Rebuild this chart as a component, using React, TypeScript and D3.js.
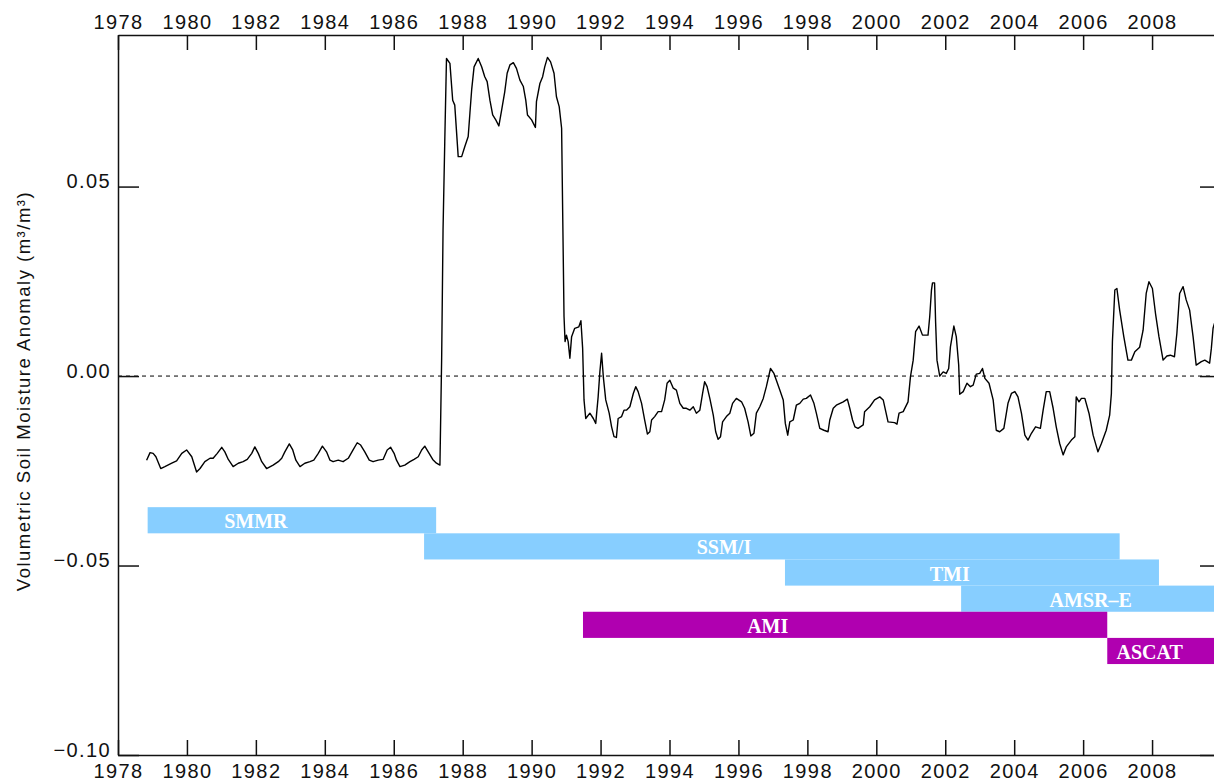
import * as d3 from "d3";
import { useEffect, useRef } from "react";

// tick labels
const yearTicks = [1978, 1980, 1982, 1984, 1986, 1988, 1990, 1992, 1994, 1996, 1998, 2000, 2002, 2004, 2006, 2008];
const valueTicks = [-0.1, -0.05, 0, 0.05];

// sensor periods (decimal years)
const sensorNames = ["SMMR", "SSM/I", "TMI", "AMSR\u2013E", "AMI", "ASCAT"];
const sensorStart = [1978.86, 1986.88, 1997.35, 2002.46, 1991.49, 2006.7];
const sensorEnd = [1987.23, 2007.06, 2008.2, 2010.5, 2006.7, 2010.5];
const sensorRow = [0, 1, 2, 3, 4, 5];
const sensorType = ["passive", "passive", "passive", "passive", "active", "active"];
const sensorLabelAt = [1982.0, 1995.58, 2002.13, 2006.22, 1996.85, 2007.93];

// soil moisture anomaly, [decimal year, m3/m3]
const anomaly: [number, number][] = [
  [1978.83,-0.0222],[1978.93,-0.0202],[1979.02,-0.0204],[1979.10,-0.0213],[1979.24,-0.0244],[1979.36,-0.0239],[1979.56,-0.0230],[1979.70,-0.0224],[1979.85,-0.0204],[1979.99,-0.0195],
  [1980.14,-0.0213],[1980.28,-0.0253],[1980.38,-0.0244],[1980.52,-0.0226],[1980.67,-0.0217],[1980.76,-0.0217],[1980.88,-0.0204],[1981.01,-0.0188],[1981.10,-0.0200],[1981.20,-0.0220],
  [1981.34,-0.0239],[1981.49,-0.0230],[1981.63,-0.0226],[1981.75,-0.0220],[1981.88,-0.0204],[1981.97,-0.0187],[1982.07,-0.0204],[1982.17,-0.0226],[1982.31,-0.0244],[1982.50,-0.0235],
  [1982.65,-0.0226],[1982.75,-0.0217],[1982.84,-0.0200],[1982.97,-0.0179],[1983.07,-0.0195],[1983.16,-0.0222],[1983.28,-0.0239],[1983.42,-0.0230],[1983.57,-0.0226],[1983.68,-0.0222],
  [1983.81,-0.0204],[1983.93,-0.0185],[1984.05,-0.0200],[1984.15,-0.0222],[1984.24,-0.0226],[1984.39,-0.0222],[1984.53,-0.0226],[1984.68,-0.0217],[1984.82,-0.0195],[1984.94,-0.0176],
  [1985.04,-0.0182],[1985.16,-0.0200],[1985.29,-0.0222],[1985.40,-0.0226],[1985.55,-0.0222],[1985.69,-0.0220],[1985.81,-0.0195],[1985.91,-0.0188],[1986.01,-0.0204],[1986.08,-0.0222],
  [1986.18,-0.0239],[1986.32,-0.0235],[1986.47,-0.0226],[1986.59,-0.0220],[1986.71,-0.0213],[1986.81,-0.0195],[1986.90,-0.0185],[1987.00,-0.0200],[1987.13,-0.0220],[1987.24,-0.0230],
  [1987.34,-0.0235],
  [1987.39,0.0048],[1987.43,0.0385],[1987.48,0.0618],[1987.53,0.0838],[1987.63,0.0825],[1987.68,0.0764],[1987.71,0.0728],[1987.77,0.0715],[1987.87,0.0579],[1987.97,0.0579],
  [1988.06,0.0605],[1988.16,0.0632],[1988.21,0.0694],[1988.26,0.0755],[1988.33,0.0816],[1988.45,0.0838],[1988.55,0.0816],[1988.64,0.0790],[1988.71,0.0777],[1988.79,0.0728],
  [1988.87,0.0689],[1988.96,0.0676],[1989.05,0.0660],[1989.13,0.0702],[1989.22,0.0750],[1989.29,0.0799],[1989.37,0.0821],[1989.47,0.0827],[1989.56,0.0812],[1989.66,0.0781],
  [1989.76,0.0764],[1989.83,0.0728],[1989.88,0.0689],[1990.00,0.0676],[1990.11,0.0656],[1990.14,0.0724],[1990.24,0.0772],[1990.32,0.0790],[1990.38,0.0816],[1990.46,0.0841],
  [1990.55,0.0829],[1990.65,0.0799],[1990.72,0.0737],[1990.80,0.0711],[1990.87,0.0654],[1990.90,0.0438],[1990.94,0.0157],[1990.97,0.0091],[1991.01,0.0108],[1991.06,0.0091],
  [1991.11,0.0047],[1991.16,0.0104],[1991.25,0.0126],[1991.37,0.0130],[1991.43,0.0146],[1991.48,0.0073],[1991.52,-0.0063],[1991.57,-0.0112],[1991.69,-0.0098],[1991.79,-0.0112],
  [1991.86,-0.0125],[1991.93,-0.0055],[1991.98,0.0011],[1992.03,0.0060],[1992.08,-0.0002],[1992.15,-0.0063],[1992.25,-0.0098],[1992.32,-0.0134],[1992.39,-0.0160],[1992.46,-0.0162],
  [1992.51,-0.0112],[1992.61,-0.0107],[1992.68,-0.0090],[1992.75,-0.0090],[1992.85,-0.0081],[1992.95,-0.0046],[1993.02,-0.0028],[1993.09,-0.0041],[1993.19,-0.0072],[1993.28,-0.0116],
  [1993.36,-0.0153],[1993.43,-0.0147],[1993.48,-0.0116],[1993.57,-0.0107],[1993.67,-0.0094],[1993.77,-0.0094],[1993.86,-0.0063],[1993.93,-0.0019],[1994.01,-0.0011],[1994.11,-0.0032],
  [1994.20,-0.0037],[1994.30,-0.0072],[1994.40,-0.0085],[1994.49,-0.0085],[1994.59,-0.0090],[1994.69,-0.0081],[1994.78,-0.0098],[1994.88,-0.0090],[1994.96,-0.0046],[1995.02,-0.0015],
  [1995.09,-0.0028],[1995.17,-0.0059],[1995.27,-0.0103],[1995.34,-0.0147],[1995.41,-0.0167],[1995.48,-0.0160],[1995.54,-0.0121],[1995.65,-0.0107],[1995.75,-0.0098],[1995.83,-0.0072],
  [1995.94,-0.0059],[1996.09,-0.0068],[1996.18,-0.0085],[1996.28,-0.0121],[1996.36,-0.0158],[1996.45,-0.0151],[1996.52,-0.0098],[1996.62,-0.0081],[1996.72,-0.0059],[1996.81,-0.0028],
  [1996.93,0.0020],[1997.03,0.0007],[1997.10,-0.0011],[1997.20,-0.0037],[1997.30,-0.0063],[1997.36,-0.0125],[1997.43,-0.0156],[1997.49,-0.0121],[1997.59,-0.0116],[1997.68,-0.0077],
  [1997.78,-0.0072],[1997.88,-0.0061],[1997.97,-0.0059],[1998.09,-0.0050],[1998.19,-0.0072],[1998.26,-0.0098],[1998.36,-0.0138],[1998.48,-0.0143],[1998.60,-0.0147],[1998.65,-0.0116],
  [1998.75,-0.0085],[1998.84,-0.0077],[1999.04,-0.0068],[1999.16,-0.0061],[1999.23,-0.0085],[1999.31,-0.0116],[1999.38,-0.0134],[1999.47,-0.0138],[1999.62,-0.0129],[1999.66,-0.0094],
  [1999.81,-0.0081],[1999.95,-0.0063],[2000.10,-0.0055],[2000.20,-0.0063],[2000.34,-0.0121],[2000.53,-0.0123],[2000.60,-0.0127],[2000.66,-0.0098],[2000.78,-0.0094],[2000.92,-0.0068],
  [2000.99,-0.0002],[2001.07,0.0042],[2001.14,0.0117],[2001.24,0.0132],[2001.34,0.0108],[2001.50,0.0108],[2001.55,0.0157],[2001.60,0.0227],[2001.63,0.0246],[2001.69,0.0246],
  [2001.72,0.0143],[2001.76,0.0042],[2001.84,0.0000],[2001.94,0.0011],[2002.03,0.0007],[2002.10,0.0020],[2002.15,0.0077],[2002.25,0.0132],[2002.32,0.0104],[2002.39,0.0029],
  [2002.42,-0.0048],[2002.52,-0.0041],[2002.63,-0.0019],[2002.73,-0.0028],[2002.81,-0.0024],[2002.90,0.0005],[2003.00,0.0007],[2003.08,0.0020],[2003.15,-0.0006],[2003.27,-0.0019],
  [2003.39,-0.0063],[2003.48,-0.0143],[2003.58,-0.0147],[2003.70,-0.0138],[2003.82,-0.0072],[2003.92,-0.0046],[2004.02,-0.0041],[2004.11,-0.0055],[2004.21,-0.0098],[2004.31,-0.0156],
  [2004.40,-0.0169],[2004.50,-0.0151],[2004.62,-0.0134],[2004.76,-0.0138],[2004.84,-0.0090],[2004.93,-0.0041],[2005.03,-0.0041],[2005.13,-0.0085],[2005.22,-0.0134],[2005.32,-0.0178],
  [2005.42,-0.0208],[2005.51,-0.0187],[2005.66,-0.0169],[2005.76,-0.0160],[2005.80,-0.0055],[2005.88,-0.0068],[2005.95,-0.0059],[2006.05,-0.0059],[2006.17,-0.0098],[2006.29,-0.0156],
  [2006.43,-0.0200],[2006.53,-0.0178],[2006.67,-0.0143],[2006.77,-0.0103],[2006.82,-0.0046],[2006.85,0.0091],[2006.92,0.0227],[2006.98,0.0231],[2007.06,0.0174],[2007.18,0.0104],
  [2007.30,0.0042],[2007.40,0.0042],[2007.50,0.0064],[2007.64,0.0076],[2007.74,0.0121],[2007.83,0.0218],[2007.91,0.0249],[2008.01,0.0231],[2008.10,0.0165],[2008.20,0.0104],
  [2008.32,0.0042],[2008.43,0.0053],[2008.53,0.0055],[2008.65,0.0051],[2008.72,0.0113],[2008.80,0.0218],[2008.90,0.0236],[2008.99,0.0201],[2009.09,0.0174],[2009.19,0.0104],
  [2009.28,0.0029],[2009.43,0.0038],[2009.53,0.0042],[2009.67,0.0034],[2009.72,0.0073],[2009.77,0.0126],[2009.84,0.0148],
];

const W = 1214;
const H = 781;
const left = 118;
const right = 1221;
const top = 35;
const bottom = 755;
const sansFont = "'Liberation Sans', Arial, sans-serif";

const App = () => {
  const ref = useRef<SVGSVGElement>(null);

  useEffect(() => {
    const svg = d3.select(ref.current);
    svg.selectAll("*").remove();

    const x = d3.scaleLinear().domain([1978, 2010]).range([left, right]);
    const y = d3.scaleLinear().domain([-0.1, 0.09]).range([bottom, top]);
    // instrument rows, in anomaly units
    const row = d3.scaleLinear().domain([0, 6]).range([-0.0346, -0.0346 - 6 * 0.0069]);

    svg.append("defs").append("clipPath").attr("id", "plot-clip")
      .append("rect").attr("x", left).attr("y", top)
      .attr("width", right - left).attr("height", bottom - top);

    // zero line
    svg.append("line")
      .attr("x1", x(1978)).attr("x2", x(2010))
      .attr("y1", y(0)).attr("y2", y(0))
      .attr("stroke", "#000").attr("stroke-width", 1)
      .attr("stroke-dasharray", "4 4");

    // sensor bars
    const bars = svg.append("g").attr("clip-path", "url(#plot-clip)");
    sensorNames.forEach((name, i) => {
      const y0 = y(row(sensorRow[i]));
      const y1 = y(row(sensorRow[i] + 1));
      bars.append("rect")
        .attr("x", x(sensorStart[i]))
        .attr("width", x(sensorEnd[i]) - x(sensorStart[i]))
        .attr("y", y0)
        .attr("height", y1 - y0)
        .attr("fill", sensorType[i] === "active" ? "#b000b0" : "#87ceff");
      bars.append("text")
        .attr("x", x(sensorLabelAt[i]))
        .attr("y", y1 - 5)
        .attr("text-anchor", "middle")
        .attr("fill", "#fff")
        .attr("font-family", "'Liberation Serif', 'Times New Roman', serif")
        .attr("font-weight", "bold")
        .attr("font-size", 20)
        .text(name);
    });

    // series
    const line = d3.line<[number, number]>()
      .x(d => x(d[0]))
      .y(d => y(d[1]));
    svg.append("path")
      .datum(anomaly)
      .attr("clip-path", "url(#plot-clip)")
      .attr("d", line)
      .attr("fill", "none")
      .attr("stroke", "#000")
      .attr("stroke-width", 1.4)
      .attr("stroke-linejoin", "round");

    const styleAxis = (g: d3.Selection<SVGGElement, unknown, null, undefined>) => {
      g.attr("font-family", sansFont).attr("font-size", 20);
      g.selectAll("path, line").attr("stroke", "#111").attr("stroke-width", 1.5);
      g.selectAll("text").attr("fill", "#111").attr("letter-spacing", 1.4);
    };

    const yearFmt = (d: d3.NumberValue) => String(d);

    svg.append("g")
      .attr("transform", `translate(0,${bottom})`)
      .call(d3.axisBottom(x).tickValues(yearTicks).tickFormat(yearFmt).tickSizeInner(-15).tickSizeOuter(0).tickPadding(9))
      .call(styleAxis);

    svg.append("g")
      .attr("transform", `translate(0,${top})`)
      .call(d3.axisTop(x).tickValues(yearTicks).tickFormat(yearFmt).tickSizeInner(-15).tickSizeOuter(0).tickPadding(6))
      .call(styleAxis);

    const valueFmt = (d: d3.NumberValue) => {
      const v = Number(d);
      return (v < 0 ? "\u2212" : "") + Math.abs(v).toFixed(2);
    };

    svg.append("g")
      .attr("transform", `translate(${left},0)`)
      .call(d3.axisLeft(y).tickValues(valueTicks).tickFormat(valueFmt).tickSizeInner(-21).tickSizeOuter(0).tickPadding(7))
      .call(styleAxis)
      .selectAll("text").attr("dy", "0.05em");

    svg.append("g")
      .attr("transform", `translate(${right},0)`)
      .call(d3.axisRight(y).tickValues(valueTicks).tickFormat(() => "").tickSizeInner(-21).tickSizeOuter(0))
      .call(styleAxis);

    svg.append("text")
      .attr("transform", `translate(30,391) rotate(-90)`)
      .attr("text-anchor", "middle")
      .attr("font-family", sansFont)
      .attr("font-size", 18.5)
      .attr("letter-spacing", 1.5)
      .attr("fill", "#111")
      .text("Volumetric Soil Moisture Anomaly (m\u00b3/m\u00b3)");
  }, []);

  return (
    <svg
      ref={ref}
      width={W}
      height={H}
      style={{ position: "absolute", left: 0, top: 0, background: "#fff" }}
    />
  );
};

export default App;
